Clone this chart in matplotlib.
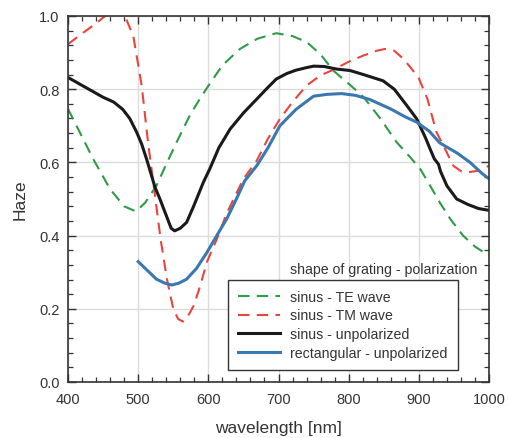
import matplotlib
matplotlib.use("Agg")
import matplotlib.pyplot as plt
from matplotlib.ticker import MultipleLocator, FormatStrFormatter

plt.rcParams['font.family'] = ['Liberation Sans', 'DejaVu Sans']

# ---- data ----
te_x = [400, 420, 436, 460, 480, 497, 510, 526, 540, 555, 574, 590, 602, 620, 645, 670, 697,
        720, 740, 760, 778, 800, 821, 845, 868, 885, 902, 915, 930, 945, 963, 980, 1000]
te_y = [0.746, 0.67, 0.609, 0.527, 0.48, 0.466, 0.49, 0.536, 0.595, 0.656, 0.73, 0.78, 0.815,
        0.865, 0.91, 0.938, 0.953, 0.945, 0.929, 0.895, 0.851, 0.815, 0.779, 0.72, 0.656, 0.62,
        0.582, 0.54, 0.49, 0.445, 0.40, 0.37, 0.345]

tm_x = [400, 420, 440, 453, 467, 481, 493, 505, 514, 524, 532, 541, 550, 557, 564, 571, 579,
        588, 598, 612, 626, 650, 669, 685, 702, 720, 740, 760, 778, 800, 821, 840, 852, 865,
        878, 890, 900, 912, 925, 935, 949, 960, 970, 987, 1000]
tm_y = [0.923, 0.952, 0.98, 1.0, 1.02, 1.0, 0.946, 0.81, 0.656, 0.509, 0.39, 0.281, 0.2, 0.172,
        0.165, 0.18, 0.208, 0.26, 0.328, 0.39, 0.46, 0.555, 0.605, 0.665, 0.719, 0.765, 0.81,
        0.838, 0.853, 0.875, 0.892, 0.905, 0.91, 0.905, 0.883, 0.855, 0.83, 0.775, 0.683,
        0.646, 0.591, 0.576, 0.573, 0.578, 0.591]

bk_x = [400, 425, 450, 465, 478, 488, 498, 505, 512, 524, 531, 540, 547, 552, 560, 569, 579,
        593, 602, 615, 631, 650, 669, 685, 697, 712, 725, 740, 750, 765, 783, 802, 821, 849,
        865, 883, 897, 910, 916, 922, 928, 931, 940, 954, 970, 985, 1000]
bk_y = [0.832, 0.805, 0.778, 0.765, 0.745, 0.72, 0.682, 0.65, 0.609, 0.532, 0.5, 0.455, 0.42,
        0.413, 0.42, 0.436, 0.48, 0.546, 0.582, 0.64, 0.691, 0.735, 0.773, 0.805, 0.828, 0.843,
        0.852, 0.859, 0.863, 0.862, 0.855, 0.851, 0.84, 0.823, 0.80, 0.755, 0.719, 0.665, 0.637,
        0.61, 0.595, 0.575, 0.536, 0.50, 0.485, 0.474, 0.469]

bl_x = [500, 513, 526, 538, 548, 558, 569, 583, 598, 612, 626, 640, 652, 669, 685, 702, 725,
        750, 770, 790, 810, 830, 860, 880, 897, 915, 930, 955, 973, 990, 1000]
bl_y = [0.329, 0.305, 0.281, 0.27, 0.265, 0.27, 0.281, 0.31, 0.354, 0.40, 0.445, 0.50, 0.55,
        0.591, 0.64, 0.70, 0.745, 0.781, 0.786, 0.788, 0.783, 0.772, 0.746, 0.725, 0.71, 0.685,
        0.653, 0.625, 0.60, 0.57, 0.555]

labels = ["sinus - TE wave", "sinus - TM wave", "sinus - unpolarized", "rectangular - unpolarized"]
legend_title = "shape of grating - polarization"

fig = plt.figure(figsize=(5.08, 4.39), dpi=100)
ax = fig.add_axes([68/508, 56/439, 421/508, 366/439])

ax.plot(te_x, te_y, color='#2f9a47', lw=1.5, ls=(0, (5.5, 3.5)), label=labels[0])
ax.plot(tm_x, tm_y, color='#e8453c', lw=1.5, ls=(0, (5.5, 3.5)), label=labels[1])
ax.plot(bk_x, bk_y, color='#1a1a1a', lw=2.2, label=labels[2])
ax.plot(bl_x, bl_y, color='#3b78b0', lw=2.2, label=labels[3])

ax.set_xlim(400, 1000)
ax.set_ylim(0.0, 1.0)
ax.xaxis.set_major_locator(MultipleLocator(100))
ax.xaxis.set_minor_locator(MultipleLocator(20))
ax.yaxis.set_major_locator(MultipleLocator(0.2))
ax.yaxis.set_minor_locator(MultipleLocator(0.04))
ax.yaxis.set_major_formatter(FormatStrFormatter('%.1f'))

ax.tick_params(which='both', direction='in', top=True, right=True, colors='#333333',
               labelcolor='#333333', labelsize=10.5)
ax.tick_params(which='major', length=6, width=1)
ax.tick_params(which='minor', length=3.5, width=0.9)
ax.tick_params(axis='x', pad=7)
ax.tick_params(axis='y', pad=6)
for s in ax.spines.values():
    s.set_color('#333333')
    s.set_linewidth(1.2)
ax.grid(True, which='major', color='#dcdcdc', lw=1.0)
ax.set_axisbelow(True)

ax.set_xlabel("wavelength [nm]", fontsize=12.5, color='#333333', labelpad=10)
ax.set_ylabel("Haze", fontsize=12.5, color='#333333', labelpad=8)

leg = ax.legend(loc='upper left', bbox_to_anchor=(0.380, 0.279), borderaxespad=0,
                fancybox=False, framealpha=1, edgecolor='#333333', fontsize=10.2,
                handlelength=3.0, handletextpad=0.7, labelspacing=0.33,
                borderpad=0.7)
leg.get_frame().set_linewidth(1.0)
for t in leg.get_texts():
    t.set_color('#333333')

ax.text(0.527, 0.309, legend_title, transform=ax.transAxes, fontsize=10.2,
        color='#333333', va='center', ha='left')

fig.savefig("out.png", dpi=100)
